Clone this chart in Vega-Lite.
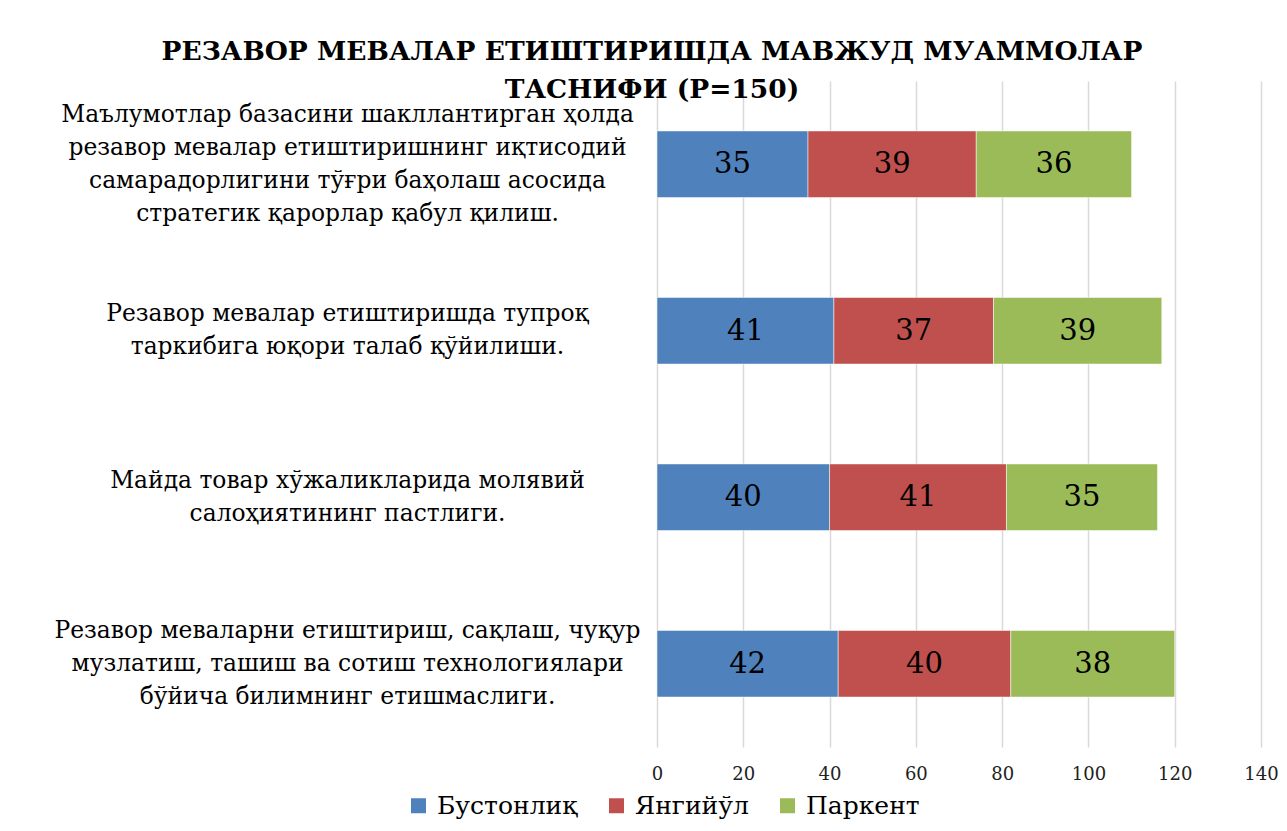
{
  "$schema": "https://vega.github.io/schema/vega-lite/v6.json",
  "autosize": {"type": "none"},
  "width": 604,
  "height": 666,
  "padding": {"left": 657, "top": 81, "right": 26, "bottom": 84},
  "background": "white",
  "config": {
    "view": {"stroke": null},
    "font": "DejaVu Serif"
  },
  "title": {
    "text": ["РЕЗАВОР МЕВАЛАР ЕТИШТИРИШДА МАВЖУД МУАММОЛАР", "ТАСНИФИ (P=150)"],
    "font": "DejaVu Serif",
    "fontSize": 26.5,
    "fontWeight": "bold",
    "color": "black",
    "anchor": "middle",
    "frame": "group",
    "lineHeight": 38,
    "offset": 0,
    "dx": -307,
    "dy": 22
  },
  "data": {
    "values": [
      {"cat": "Маълумотлар базасини шакллантирган ҳолда|резавор мевалар етиштиришнинг иқтисодий|самарадорлигини тўғри баҳолаш асосида|стратегик қарорлар қабул қилиш.", "corder": 1, "series": "Бустонлиқ", "sorder": 1, "value": 35},
      {"cat": "Маълумотлар базасини шакллантирган ҳолда|резавор мевалар етиштиришнинг иқтисодий|самарадорлигини тўғри баҳолаш асосида|стратегик қарорлар қабул қилиш.", "corder": 1, "series": "Янгийўл", "sorder": 2, "value": 39},
      {"cat": "Маълумотлар базасини шакллантирган ҳолда|резавор мевалар етиштиришнинг иқтисодий|самарадорлигини тўғри баҳолаш асосида|стратегик қарорлар қабул қилиш.", "corder": 1, "series": "Паркент", "sorder": 3, "value": 36},
      {"cat": "Резавор мевалар етиштиришда тупроқ|таркибига юқори талаб қўйилиши.", "corder": 2, "series": "Бустонлиқ", "sorder": 1, "value": 41},
      {"cat": "Резавор мевалар етиштиришда тупроқ|таркибига юқори талаб қўйилиши.", "corder": 2, "series": "Янгийўл", "sorder": 2, "value": 37},
      {"cat": "Резавор мевалар етиштиришда тупроқ|таркибига юқори талаб қўйилиши.", "corder": 2, "series": "Паркент", "sorder": 3, "value": 39},
      {"cat": "Майда товар хўжаликларида молявий|салоҳиятининг пастлиги.", "corder": 3, "series": "Бустонлиқ", "sorder": 1, "value": 40},
      {"cat": "Майда товар хўжаликларида молявий|салоҳиятининг пастлиги.", "corder": 3, "series": "Янгийўл", "sorder": 2, "value": 41},
      {"cat": "Майда товар хўжаликларида молявий|салоҳиятининг пастлиги.", "corder": 3, "series": "Паркент", "sorder": 3, "value": 35},
      {"cat": "Резавор меваларни етиштириш, сақлаш, чуқур|музлатиш, ташиш ва сотиш технологиялари|бўйича билимнинг етишмаслиги.", "corder": 4, "series": "Бустонлиқ", "sorder": 1, "value": 42},
      {"cat": "Резавор меваларни етиштириш, сақлаш, чуқур|музлатиш, ташиш ва сотиш технологиялари|бўйича билимнинг етишмаслиги.", "corder": 4, "series": "Янгийўл", "sorder": 2, "value": 40},
      {"cat": "Резавор меваларни етиштириш, сақлаш, чуқур|музлатиш, ташиш ва сотиш технологиялари|бўйича билимнинг етишмаслиги.", "corder": 4, "series": "Паркент", "sorder": 3, "value": 38}
    ]
  },
  "encoding": {
    "y": {
      "field": "cat",
      "type": "nominal",
      "sort": {"field": "corder", "op": "min", "order": "ascending"},
      "scale": {"paddingInner": 0.6, "paddingOuter": 0.3},
      "axis": {
        "title": null,
        "domain": false,
        "ticks": false,
        "tickSize": 0,
        "labelExpr": "split(datum.label, '|')",
        "labelAlign": "center",
        "labelBaseline": "middle",
        "labelOffset": {
          "condition": [
            {"test": "indexof(datum.value, 'Маълумотлар') == 0", "value": -49.5},
            {"test": "indexof(datum.value, 'Резавор меваларни') == 0", "value": -33}
          ],
          "value": -16.5
        },
        "labelPadding": 310,
        "labelLimit": 700,
        "labelFont": "DejaVu Serif",
        "labelFontSize": 23.4,
        "labelLineHeight": 33,
        "labelColor": "black"
      }
    },
    "x": {
      "field": "value",
      "type": "quantitative",
      "stack": "zero",
      "scale": {"domain": [0, 140], "nice": false},
      "axis": {
        "title": null,
        "values": [0, 20, 40, 60, 80, 100, 120, 140],
        "domain": false,
        "ticks": false,
        "tickSize": 0,
        "labelFlush": false,
        "labelOverlap": false,
        "labelPadding": 18,
        "labelFont": "DejaVu Serif",
        "labelFontSize": 18,
        "labelColor": "#222222",
        "grid": true,
        "gridColor": "#d9d9d9",
        "gridWidth": 1.5
      }
    },
    "order": {"field": "sorder", "type": "quantitative"}
  },
  "layer": [
    {
      "mark": {"type": "bar", "stroke": "white", "strokeWidth": 0.5},
      "encoding": {
        "color": {
          "field": "series",
          "type": "nominal",
          "sort": ["Бустонлиқ", "Янгийўл", "Паркент"],
          "scale": {"domain": ["Бустонлиқ", "Янгийўл", "Паркент"], "range": ["#4F81BD", "#C0504D", "#9BBB59"]},
          "legend": {
            "title": null,
            "orient": "none",
            "direction": "horizontal",
            "legendX": -251,
            "legendY": 712,
            "symbolType": "square",
            "symbolSize": 225,
            "symbolStrokeWidth": 0,
            "labelFont": "DejaVu Serif",
            "labelFontSize": 25,
            "labelColor": "black",
            "labelOffset": 6,
            "columnPadding": 26,
            "labelLimit": 300
          }
        }
      }
    },
    {
      "mark": {"type": "text", "font": "DejaVu Serif", "fontSize": 29, "color": "black", "baseline": "middle", "align": "center"},
      "encoding": {
        "x": {"field": "value", "type": "quantitative", "stack": "zero", "bandPosition": 0.5},
        "text": {"field": "value", "type": "quantitative"},
        "detail": {"field": "series", "type": "nominal"}
      }
    }
  ]
}
